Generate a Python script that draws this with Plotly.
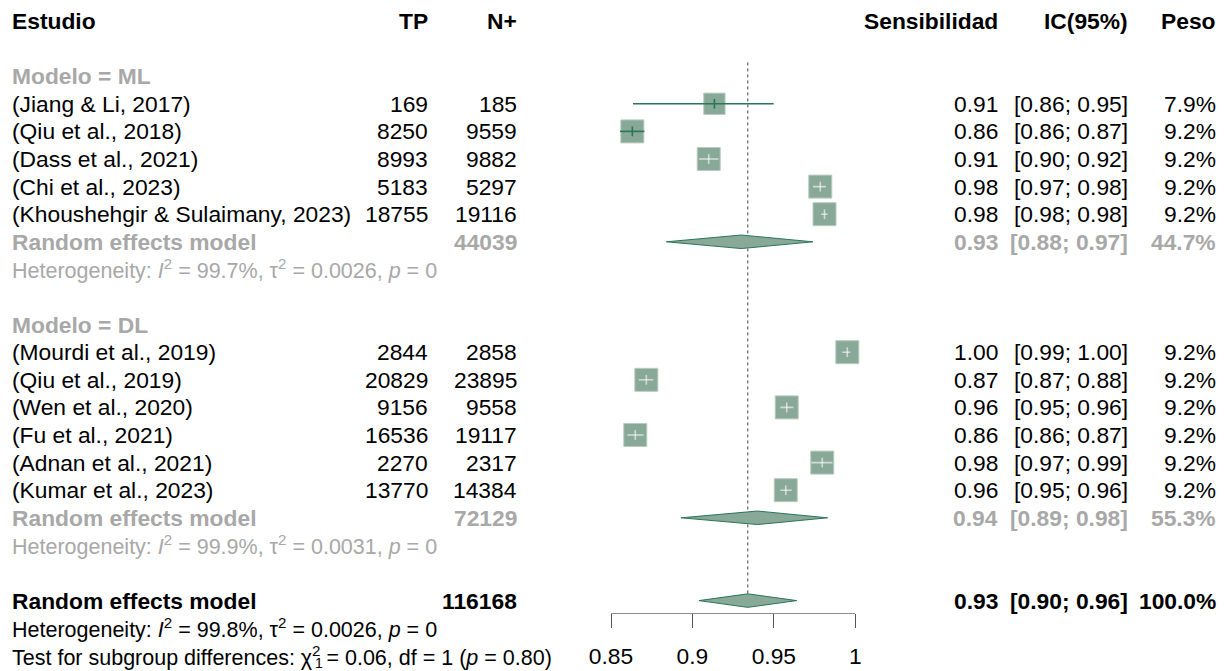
import plotly.graph_objects as go

# ---------------- data ----------------
ml_studies = ["(Jiang & Li, 2017)", "(Qiu et al., 2018)", "(Dass et al., 2021)",
              "(Chi et al., 2023)", "(Khoushehgir & Sulaimany, 2023)"]
ml_tp = [169, 8250, 8993, 5183, 18755]
ml_n = [185, 9559, 9882, 5297, 19116]
ml_est = [0.9135, 0.8631, 0.9100, 0.9785, 0.9811]
ml_lo = [0.8635, 0.8555, 0.9040, 0.9740, 0.9790]
ml_hi = [0.9499, 0.8705, 0.9160, 0.9820, 0.9830]
ml_w = [7.9, 9.2, 9.2, 9.2, 9.2]

dl_studies = ["(Mourdi et al., 2019)", "(Qiu et al., 2019)", "(Wen et al., 2020)",
              "(Fu et al., 2021)", "(Adnan et al., 2021)", "(Kumar et al., 2023)"]
dl_tp = [2844, 20829, 9156, 16536, 2270, 13770]
dl_n = [2858, 23895, 9558, 19117, 2317, 14384]
dl_est = [0.9951, 0.8717, 0.9579, 0.8649, 0.9797, 0.9573]
dl_lo = [0.9920, 0.8670, 0.9540, 0.8600, 0.9730, 0.9540]
dl_hi = [0.9970, 0.8760, 0.9620, 0.8700, 0.9860, 0.9610]
dl_w = [9.2, 9.2, 9.2, 9.2, 9.2, 9.2]

# pooled: [ML, DL, overall]
re_est = [0.930, 0.940, 0.934]
re_lo = [0.884, 0.893, 0.904]
re_hi = [0.974, 0.983, 0.964]
re_n = [44039, 72129, 116168]
re_w = [44.7, 55.3, 100.0]

het_ml = ("99.7%", "0.0026", "0")
het_dl = ("99.9%", "0.0031", "0")
het_all = ("99.8%", "0.0026", "0")
test_sub = ("0.06", "1", "0.80")

x_ticks = [0.85, 0.9, 0.95, 1.0]
x_tick_labels = ["0.85", "0.9", "0.95", "1"]

# ---------------- layout constants ----------------
W, H = 1227, 671
ROW0, ROWH = 21.0, 27.6
AX_L, AX_R = 611.0, 855.3
AX_Y = 613.3
FONT = "Liberation Sans, Arial, sans-serif"
FS = 22.8
FS_HET = 21.5
GREY = "#a8a8a8"
SQ_FILL = "#88a898"
SQ_LINE = "#b9cbc1"
DARK = "#2b7558"
LIGHT = "rgba(255,255,255,0.6)"
px_per_unit = (AX_R - AX_L) / (x_ticks[-1] - x_ticks[0])

COL_TP, COL_N, COL_S, COL_CI, COL_W = 430, 519, 1000, 1130, 1218

fig = go.Figure()
ann = []


def txt(px, k, s, anchor="right", bold=False, color="black", dy=0, size=FS):
    if bold:
        s = "<b>" + s + "</b>"
    ann.append(dict(x=px / W, xref="paper", y=k, yref="y", text=s, showarrow=False,
                    xanchor=anchor, yanchor="middle", yshift=dy,
                    font=dict(family=FONT, size=size, color=color)))


def study_rows(names, tp, n, est, lo, hi, w, k0):
    for i in range(len(names)):
        k = k0 + i
        side = 23.0 * (w[i] / 9.2) ** 0.5
        ci_px = (hi[i] - lo[i]) * px_per_unit
        inside = ci_px < side
        col = LIGHT if inside else DARK
        fig.add_trace(go.Scatter(x=[est[i]], y=[k], mode="markers", cliponaxis=False,
                                 marker=dict(symbol="square", size=side, color=SQ_FILL,
                                             line=dict(color=SQ_LINE, width=1)),
                                 showlegend=False, hoverinfo="skip"))
        fig.add_trace(go.Scatter(x=[lo[i], hi[i]], y=[k, k], mode="lines", cliponaxis=False,
                                 line=dict(color=col, width=1.6),
                                 showlegend=False, hoverinfo="skip"))
        fig.add_trace(go.Scatter(x=[est[i]], y=[k], mode="markers", cliponaxis=False,
                                 marker=dict(symbol="line-ns", size=7,
                                             line=dict(color=col, width=1.6)),
                                 showlegend=False, hoverinfo="skip"))
        txt(10, k, names[i], anchor="left")
        txt(COL_TP, k, str(tp[i]))
        txt(COL_N, k, str(n[i]))
        txt(COL_S, k, f"{est[i]:.2f}")
        txt(COL_CI, k, f"[{lo[i]:.2f}; {hi[i]:.2f}]")
        txt(COL_W, k, f"{w[i]:.1f}%")


def diamond(j, k, color):
    hh = 0.245
    fig.add_trace(go.Scatter(x=[re_lo[j], re_est[j], re_hi[j], re_est[j], re_lo[j]],
                             y=[k, k - hh, k, k + hh, k], mode="lines", fill="toself",
                             fillcolor=SQ_FILL, line=dict(color=DARK, width=1),
                             cliponaxis=False, showlegend=False, hoverinfo="skip"))
    txt(10, k, "Random effects model", anchor="left", bold=True, color=color)
    txt(COL_N, k, str(re_n[j]), bold=True, color=color)
    txt(COL_S, k, f"{re_est[j]:.2f}", bold=True, color=color)
    txt(COL_CI, k, f"[{re_lo[j]:.2f}; {re_hi[j]:.2f}]", bold=True, color=color)
    txt(COL_W, k, f"{re_w[j]:.1f}%", bold=True, color=color)


def het(k, h, color):
    s = (f"Heterogeneity: <i>I</i><sup>2</sup> = {h[0]}, \u03c4<sup>2</sup> = {h[1]}, "
         f"<i>p</i> = {h[2]}")
    txt(10, k, s, anchor="left", color=color, size=FS_HET)


# reference line (overall estimate)
fig.add_trace(go.Scatter(x=[re_est[2], re_est[2]], y=[1.5, 21 - 0.245], mode="lines",
                         line=dict(color="#444444", width=1, dash="dot"),
                         showlegend=False, hoverinfo="skip"))

# header
txt(10, 0, "Estudio", anchor="left", bold=True)
txt(COL_TP, 0, "TP", bold=True)
txt(COL_N, 0, "N+", bold=True)
txt(COL_S, 0, "Sensibilidad", bold=True)
txt(COL_CI, 0, "IC(95%)", bold=True)
txt(COL_W, 0, "Peso", bold=True)

# ML subgroup
txt(10, 2, "Modelo = ML", anchor="left", bold=True, color=GREY)
study_rows(ml_studies, ml_tp, ml_n, ml_est, ml_lo, ml_hi, ml_w, 3)
diamond(0, 8, GREY)
het(9, het_ml, GREY)

# DL subgroup
txt(10, 11, "Modelo = DL", anchor="left", bold=True, color=GREY)
study_rows(dl_studies, dl_tp, dl_n, dl_est, dl_lo, dl_hi, dl_w, 12)
diamond(1, 18, GREY)
het(19, het_dl, GREY)

# overall
diamond(2, 21, "black")
het(22, het_all, "black")
txt(10, 23, f"Test for subgroup differences: \u03c7<sup>2</sup> = {test_sub[0]}, "
            f"df = {test_sub[1]} (<i>p</i> = {test_sub[2]})", anchor="left", size=FS_HET)
txt(313, 23, "1", anchor="left", size=14, dy=-7)

k_top = -ROW0 / ROWH
k_bot = (H - ROW0) / ROWH

fig.update_layout(
    width=W, height=H, margin=dict(l=0, r=0, t=0, b=0, autoexpand=False),
    paper_bgcolor="white", plot_bgcolor="white",
    annotations=ann, showlegend=False,
    font=dict(family=FONT, size=FS, color="black"),
    xaxis=dict(domain=[AX_L / W, AX_R / W], range=[x_ticks[0], x_ticks[-1]],
               anchor="free", position=(H - AX_Y) / H, automargin=False,
               showline=True, linecolor="#8c8c8c", linewidth=1.3,
               ticks="outside", ticklen=14, tickwidth=1.3, tickcolor="#555555",
               tickvals=x_ticks, ticktext=x_tick_labels, ticklabelstandoff=8,
               tickfont=dict(family=FONT, size=FS, color="black"),
               showgrid=False, zeroline=False, fixedrange=True),
    yaxis=dict(domain=[0, 1], range=[k_bot, k_top], visible=False, automargin=False,
               showgrid=False, zeroline=False, fixedrange=True),
)

fig.write_html("out.html")
